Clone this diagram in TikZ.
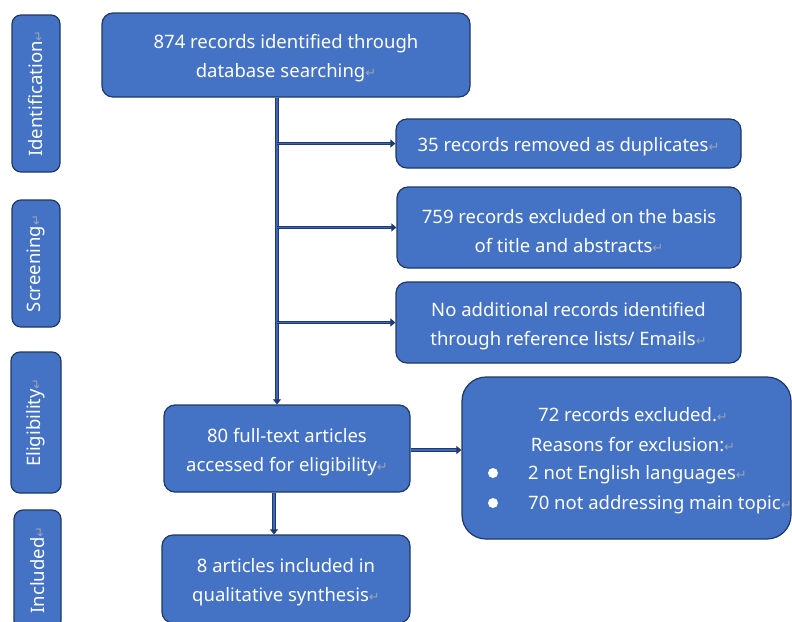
\documentclass[tikz,border=0pt]{standalone}
\usepackage{fontspec}
\setmainfont{Noto Sans}
\newfontfamily\symfont{DejaVu Sans}
\usetikzlibrary{arrows.meta}
\definecolor{boxblue}{HTML}{4472C4}
\definecolor{navy}{HTML}{1F3864}
\definecolor{linenavy}{HTML}{1F3A70}
\definecolor{linemid}{HTML}{3F66B4}
\definecolor{markgray}{HTML}{9AA3B5}
\newcommand\pmark{{\color{markgray}\symfont\fontsize{13}{13}\selectfont ↵}}
\newcommand\dn{\rule{0pt}{21pt}}
\tikzset{
  box/.style={draw=navy, fill=boxblue, line width=1.2pt, rounded corners=11pt,
    text=white, align=center, inner sep=0pt,
    font=\fontsize{18.5}{29}\selectfont},
  side/.style={box, rounded corners=9pt},
  txt/.style={text=white, inner sep=0pt, font=\fontsize{18.5}{29}\selectfont},
  arr/.style={draw=linenavy, line width=1pt, double=linemid, double distance=1.4pt,
    -{Triangle[length=5pt,width=8pt,fill=linenavy]}},
}
\begin{document}
\begin{tikzpicture}[x=1pt,y=-1pt]
\useasboundingbox (0,0) rectangle (792,621);
\clip (0,0) rectangle (792,621);
% stage labels
\node[side, minimum width=48pt, minimum height=157pt] (ident) at (36,93.5) {};
\node[txt, rotate=90] (identt) at (ident.center) {Identification\pmark};
\node[side, minimum width=48pt, minimum height=127pt] (screen) at (36,263.5) {};
\node[txt, rotate=90] (screent) at (screen.center) {Screening\pmark};
\node[side, minimum width=50pt, minimum height=141pt] (elig) at (36,422.5) {};
\node[txt, rotate=90] (eligt) at (elig.center) {Eligibility\pmark};
\node[side, minimum width=47pt, minimum height=120pt] (incl) at (37.5,570) {};
\node[txt, rotate=90] (inclt) at (incl.center) {Included\pmark};
% main boxes
\node[box, minimum width=368pt, minimum height=84pt] (top) at (286,55)
  {\dn874 records identified through\\database searching\pmark};
\node[box, minimum width=345pt, minimum height=49pt] (dup) at (568.5,143.5)
  {\dn35 records removed as duplicates\pmark};
\node[box, minimum width=344pt, minimum height=81pt] (excl) at (569,227.5)
  {\dn759 records excluded on the basis\\of title and abstracts\pmark};
\node[box, minimum width=345pt, minimum height=81pt] (noadd) at (568.5,322.5)
  {\dn No additional records identified\\through reference lists/ Emails\pmark};
\node[box, minimum width=246pt, minimum height=87pt] (full) at (287,448.5)
  {\dn80 full-text articles\\accessed for eligibility\pmark};
\node[box, minimum width=248pt, minimum height=88pt] (incl8) at (286,579)
  {\dn8 articles included in\\qualitative synthesis\pmark};
\node[box, rounded corners=24pt, minimum width=329pt, minimum height=162pt] (reasons) at (626.5,458) {};
\node[txt] (r1) at (633,415) {72 records excluded.\pmark};
\node[txt] (r2) at (633,445) {Reasons for exclusion:\pmark};
\node[circle, fill=white, inner sep=0pt, minimum size=10pt] (b1) at (493,473) {};
\node[circle, fill=white, inner sep=0pt, minimum size=10pt] (b2) at (493,503) {};
\node[txt, anchor=west] (r3) at (528,475) {2 not English languages\pmark};
\node[txt, anchor=west] (r4) at (528,505) {70 not addressing main topic\pmark};
% connectors
\coordinate (spine) at (277,0);
\coordinate (spine2) at (274,0);
\draw[arr] (top.south -| spine) -- (full.north -| spine);
\draw[arr] (spine |- dup.west) -- (dup.west);
\draw[arr] (spine |- excl.west) -- (excl.west);
\draw[arr] (spine |- noadd.west) -- (noadd.west);
\draw[arr] (full.east |- 0,450) -- (reasons.west |- 0,450);
\draw[arr] (full.south -| spine2) -- (incl8.north -| spine2);
\end{tikzpicture}
\end{document}
